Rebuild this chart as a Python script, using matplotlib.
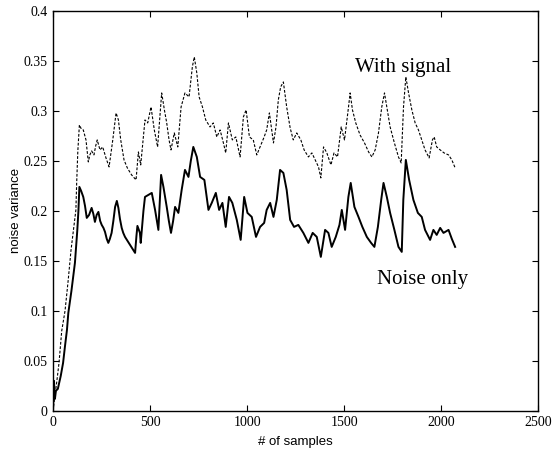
import matplotlib
matplotlib.use("Agg")
import matplotlib.pyplot as plt

# samples / values
noise_x = [0, 5, 10, 15, 25, 40, 52, 62, 72, 79, 95, 113, 125, 131, 136, 145, 156, 165,
           174, 186, 199, 208, 216, 225, 234, 243, 251, 260, 268, 277, 285, 293, 302, 311,
           320, 329, 337, 345, 354, 362, 371, 384, 397, 410, 423, 430, 435, 448, 452, 466,
           474, 491, 509, 526, 543, 557, 569, 586, 597, 608, 619, 629, 646, 663, 680, 698,
           710, 723, 741, 758, 780, 801, 818, 839, 856, 873, 890, 907, 924, 947, 967, 985,
           1002, 1024, 1046, 1067, 1088, 1101, 1119, 1136, 1153, 1170, 1187, 1204, 1222,
           1242, 1264, 1290, 1316, 1338, 1359, 1380, 1402, 1419, 1436, 1457, 1476, 1488,
           1505, 1522, 1534, 1553, 1574, 1594, 1617, 1639, 1656, 1674, 1691, 1703, 1720,
           1737, 1759, 1780, 1797, 1805, 1818, 1835, 1857, 1880, 1900, 1917, 1943, 1960,
           1977, 1995, 2012, 2038, 2055, 2072]
noise_only = [0.0, 0.03, 0.012, 0.02, 0.022, 0.035, 0.048, 0.065, 0.081, 0.098, 0.12, 0.148,
              0.18, 0.2, 0.224, 0.22, 0.214, 0.205, 0.193, 0.196, 0.203, 0.197, 0.189, 0.196,
              0.199, 0.19, 0.186, 0.183, 0.179, 0.172, 0.168, 0.172, 0.178, 0.19, 0.204, 0.21,
              0.203, 0.192, 0.183, 0.178, 0.174, 0.17, 0.166, 0.162, 0.158, 0.175, 0.185,
              0.178, 0.168, 0.2, 0.214, 0.216, 0.218, 0.201, 0.181, 0.236, 0.224, 0.204, 0.19,
              0.178, 0.19, 0.204, 0.198, 0.221, 0.241, 0.234, 0.25, 0.264, 0.254, 0.234, 0.231,
              0.201, 0.208, 0.218, 0.201, 0.208, 0.184, 0.214, 0.208, 0.191, 0.171, 0.214,
              0.198, 0.194, 0.174, 0.184, 0.188, 0.201, 0.208, 0.194, 0.211, 0.241, 0.238,
              0.221, 0.191, 0.184, 0.186, 0.178, 0.168, 0.178, 0.174, 0.154, 0.181, 0.178,
              0.164, 0.174, 0.186, 0.201, 0.181, 0.214, 0.228, 0.204, 0.194, 0.184, 0.174,
              0.168, 0.164, 0.184, 0.211, 0.228, 0.214, 0.198, 0.181, 0.164, 0.159, 0.211,
              0.251, 0.231, 0.211, 0.198, 0.194, 0.181, 0.171, 0.181, 0.176, 0.183, 0.178,
              0.181, 0.172, 0.164]

signal_x = [0, 8, 20, 31, 45, 62, 78, 93, 108, 118, 122, 128, 136, 146, 156, 170, 182, 190,
            199, 211, 220, 228, 242, 256, 273, 289, 308, 325, 337, 349, 366, 383, 405, 428,
            440, 452, 466, 474, 488, 505, 522, 539, 560, 574, 586, 598, 608, 625, 643, 660,
            680, 701, 718, 728, 741, 753, 770, 787, 809, 826, 844, 861, 878, 890, 904, 924,
            942, 964, 981, 995, 1012, 1032, 1050, 1067, 1088, 1101, 1115, 1127, 1136, 1149,
            1161, 1173, 1187, 1204, 1222, 1238, 1256, 1277, 1294, 1316, 1334, 1351, 1368,
            1380, 1394, 1411, 1432, 1448, 1466, 1485, 1502, 1519, 1531, 1543, 1560, 1582,
            1605, 1626, 1643, 1660, 1677, 1694, 1708, 1720, 1737, 1759, 1780, 1794, 1806,
            1818, 1832, 1849, 1866, 1883, 1900, 1917, 1938, 1955, 1964, 1977, 1995, 2015,
            2038, 2055, 2072]
with_signal = [0.0, 0.012, 0.03, 0.048, 0.08, 0.1, 0.13, 0.161, 0.185, 0.201, 0.228, 0.26,
               0.286, 0.282, 0.281, 0.271, 0.249, 0.256, 0.26, 0.256, 0.265, 0.271, 0.261,
               0.264, 0.253, 0.244, 0.271, 0.298, 0.291, 0.271, 0.251, 0.243, 0.236, 0.231,
               0.259, 0.246, 0.274, 0.291, 0.288, 0.304, 0.281, 0.264, 0.318, 0.301, 0.288,
               0.271, 0.261, 0.278, 0.264, 0.304, 0.318, 0.314, 0.344, 0.354, 0.338, 0.314,
               0.304, 0.291, 0.284, 0.288, 0.274, 0.281, 0.268, 0.258, 0.288, 0.271, 0.274,
               0.254, 0.294, 0.301, 0.274, 0.271, 0.256, 0.264, 0.274, 0.281, 0.298, 0.281,
               0.268, 0.284, 0.311, 0.324, 0.329, 0.304, 0.283, 0.271, 0.278, 0.271, 0.261,
               0.254, 0.258, 0.251, 0.244, 0.233, 0.264, 0.258, 0.246, 0.258, 0.254, 0.284,
               0.271, 0.298, 0.318, 0.301, 0.288, 0.276, 0.268, 0.259, 0.254, 0.261, 0.278,
               0.304, 0.318, 0.304, 0.284, 0.268, 0.254, 0.248, 0.304, 0.334, 0.318, 0.301,
               0.288, 0.281, 0.271, 0.261, 0.253, 0.271, 0.274, 0.264, 0.261, 0.258, 0.256,
               0.251, 0.243]

xticks = [0, 500, 1000, 1500, 2000, 2500]
yticks = [0, 0.05, 0.1, 0.15, 0.2, 0.25, 0.3, 0.35, 0.4]
ytick_labels = ["0", "0.05", "0.1", "0.15", "0.2", "0.25", "0.3", "0.35", "0.4"]

serif = "Liberation Serif"
sans = "Liberation Sans"

fig = plt.figure(figsize=(5.52, 4.57), dpi=100)
ax = fig.add_axes([0.096, 0.101, 0.879, 0.875])

ax.plot(noise_x, noise_only, color="black", lw=1.4)
ax.plot(signal_x, with_signal, color="black", lw=0.8, linestyle=(0, (2.5, 1.5)))

ax.set_xlim(0, 2500)
ax.set_ylim(0, 0.4)
ax.set_xticks(xticks)
ax.set_xticklabels([str(t) for t in xticks], family=serif, fontsize=10)
ax.set_yticks(yticks)
ax.set_yticklabels(ytick_labels, family=serif, fontsize=10)
ax.tick_params(direction="in", top=True, right=True, length=4, width=0.8, pad=4)
for s in ax.spines.values():
    s.set_linewidth(1.0)

ax.set_xlabel("# of samples", family=sans, fontsize=9.5, labelpad=5)
ax.set_ylabel("noise variance", family=sans, fontsize=9.5, labelpad=1)

ax.text(1557, 0.339, "With signal", family=serif, fontsize=15, ha="left", va="baseline")
ax.text(1670, 0.127, "Noise only", family=serif, fontsize=15, ha="left", va="baseline")

fig.savefig("out.png", dpi=100)
